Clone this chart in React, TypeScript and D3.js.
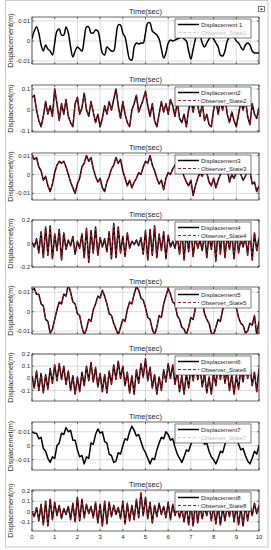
import React from 'react';
import * as d3 from 'd3';

// sampled every 0.1 s, 0..10 s
const time = d3.range(101).map((i) => i / 10);

const disp1 = [0.001,0.005,0.007,0.004,-0.002,-0.005,-0.002,-0.004,-0.005,-0.007,-0.001,0.005,0.006,0.003,0.003,0.007,0.004,-0.003,-0.008,-0.005,-0.003,-0.004,-0.005,0.001,0.007,0.007,0.004,0.004,0.0055,0.005,0,-0.006,-0.007,-0.003,-0.004,-0.005,-0.005,0.002,0.008,0.008,0.004,0.002,-0.004,-0.009,-0.0095,-0.003,-0.001,-0.0015,-0.001,-0.001,0.004,0.009,0.009,0.005,0.004,0.003,0.001,-0.004,-0.0085,-0.006,-0.001,0.0005,0,0.0005,0.001,0.0015,0.002,0.001,0,-0.005,-0.009,-0.004,0.001,0.004,0.003,-0.001,-0.003,-0.001,0.001,0.002,0.001,-0.001,-0.003,-0.007,-0.0075,-0.005,0,0.002,0.003,0.002,0,-0.001,-0.003,-0.0045,-0.002,-0.001,-0.002,-0.005,-0.006,-0.006,-0.006];
const disp2 = [0.06,0.07,0,-0.05,-0.08,-0.03,0.04,-0.02,0.02,-0.03,0.1,0.03,-0.05,0.03,-0.02,0.05,-0.03,-0.06,-0.08,0.03,0.06,-0.02,0.01,0.08,0,-0.03,0.04,-0.01,-0.06,-0.02,-0.08,-0.04,0.02,-0.02,0.04,0,0.05,0.1,0.02,-0.04,0.04,-0.02,-0.06,-0.08,0,0.03,0.07,-0.01,0.02,0.05,0.09,0.02,-0.03,0.03,-0.05,-0.08,-0.02,0.04,-0.01,0.03,-0.02,0.05,0.02,-0.03,0.04,-0.04,-0.06,-0.02,-0.08,0,0.05,-0.01,0.06,0.02,-0.03,0.03,-0.05,-0.02,-0.07,-0.08,0,0.05,-0.02,0.04,0,0.06,-0.02,-0.06,-0.01,-0.05,-0.08,-0.02,0.04,0,0.05,-0.03,-0.07,0.03,-0.02,-0.04,0.01];
const disp3 = [0.01,0.008,0.009,0.004,0.002,-0.003,-0.001,-0.006,-0.009,-0.005,0.001,0.005,0.007,0.006,0.007,0.004,0,-0.004,-0.007,-0.01,-0.005,-0.002,0.004,0.006,0.01,0.007,0.009,0.003,-0.001,-0.004,-0.002,-0.007,-0.009,-0.004,-0.001,0.003,0.005,0.009,0.006,0.008,0.002,-0.002,-0.006,-0.003,-0.007,-0.004,-0.002,0.001,0,0.004,0.007,0.006,0.01,0.005,0.002,-0.002,-0.005,-0.003,-0.008,-0.002,0.001,0,0.003,0.005,0.004,0.006,0.002,-0.001,-0.004,-0.006,-0.003,-0.011,-0.006,-0.002,0.001,-0.001,0.003,0.001,-0.004,-0.006,-0.002,-0.007,-0.003,0,0.002,0.001,0.003,-0.004,0,-0.002,0.001,0.002,0,-0.003,-0.001,0.003,0.002,-0.005,-0.004,-0.009,-0.006];
const disp4 = [0.01,-0.03,0.04,-0.08,0.1,-0.12,0.14,-0.1,0.15,-0.13,0.08,-0.06,0.12,-0.14,0.09,-0.05,0.03,-0.02,0.06,-0.09,0.02,-0.04,0.08,-0.12,0.13,-0.16,0.11,-0.08,0.14,-0.1,0.05,-0.03,0.04,-0.07,0.1,-0.13,0.17,-0.12,0.14,-0.08,0.06,-0.11,0.09,-0.04,0.02,-0.01,0.03,-0.02,0.05,-0.09,0.11,-0.14,0.12,-0.1,0.15,-0.12,0.08,-0.06,0.1,-0.13,0.07,-0.03,0.02,-0.04,0.06,-0.09,0.12,-0.14,0.1,-0.07,0.13,-0.11,0.06,-0.04,0.03,-0.06,0.09,-0.12,0.08,-0.05,0.11,-0.15,0.13,-0.09,0.14,-0.12,0.07,-0.05,0.09,-0.13,0.11,-0.08,0.04,-0.03,0.06,-0.1,0.12,-0.14,0.09,-0.06,0.05];
const disp5 = [0.011,0.012,0.009,0.009,0.004,0.003,-0.004,-0.005,-0.011,-0.009,-0.004,0.001,0.005,0.004,0.009,0.008,0.014,0.01,0.005,0.004,-0.001,-0.002,-0.008,-0.012,-0.009,-0.004,-0.005,0.001,0.004,0.008,0.007,0.011,0.008,0.004,-0.001,-0.002,-0.006,-0.009,-0.012,-0.008,-0.004,-0.005,0.001,0.005,0.004,0.009,0.013,0.011,0.007,0.006,0.002,-0.003,-0.004,-0.009,-0.012,-0.008,-0.002,-0.003,0.004,0.008,0.012,0.009,0.005,0.004,-0.002,-0.004,-0.008,-0.009,-0.012,-0.008,-0.003,-0.004,0.002,0.003,0.006,0.005,-0.001,-0.004,-0.006,-0.011,-0.012,-0.008,-0.004,-0.005,0.001,0.006,0.005,0.01,0.007,0.003,0.002,-0.003,-0.006,-0.007,-0.011,-0.01,-0.006,-0.007,-0.002,-0.012,-0.005];
const disp6 = [0.02,-0.08,0.06,-0.1,0.04,-0.12,0.03,-0.09,0.08,-0.04,0.11,-0.02,0.12,-0.01,0.1,-0.05,0.06,-0.1,0.02,-0.13,0.01,-0.11,0.05,-0.06,0.1,-0.02,0.13,-0.03,0.09,-0.07,0.04,-0.11,0.03,-0.12,0.06,-0.05,0.11,-0.01,0.14,0,0.1,-0.06,0.05,-0.12,0.02,-0.13,0.07,-0.04,0.12,0.01,0.16,-0.02,0.09,-0.08,0.03,-0.13,0.01,-0.1,0.07,-0.03,0.12,0,0.11,-0.05,0.06,-0.11,0.02,-0.13,0.04,-0.08,0.09,-0.02,0.13,-0.01,0.1,-0.07,0.04,-0.12,0.01,-0.13,0.05,-0.06,0.11,-0.01,0.12,-0.04,0.07,-0.1,0.03,-0.13,0.02,-0.09,0.08,-0.03,0.13,0,0.1,-0.06,0.05,-0.11,0.08];
const disp7 = [0.01,0.009,0.009,0.005,0.006,-0.002,-0.004,-0.009,-0.012,-0.008,-0.009,0,0.002,0.009,0.008,0.013,0.01,0.011,0.004,0.004,-0.003,-0.008,-0.007,-0.013,-0.008,-0.009,0.002,0.001,0.008,0.012,0.009,0.01,0.003,0.002,-0.006,-0.007,-0.012,-0.011,-0.005,-0.006,0,0.005,0.004,0.01,0.014,0.011,0.007,0.008,0.003,-0.002,-0.005,-0.009,-0.013,-0.009,-0.010,-0.003,0.002,0.006,0.005,0.01,0.008,0.004,0.005,-0.001,-0.006,-0.009,-0.012,-0.008,-0.003,-0.004,0.001,0.004,0.007,0.006,0.009,0.005,0.001,0.002,-0.004,-0.008,-0.01,-0.013,-0.009,-0.004,-0.005,0.001,0.005,0.004,0.008,0.009,0.006,0.001,-0.003,-0.002,-0.007,-0.011,-0.013,-0.009,-0.004,-0.006,0];
const disp8 = [0,-0.05,0.04,-0.09,0.07,-0.13,0.1,-0.14,0.12,-0.08,0.09,-0.04,0.06,-0.07,0.03,-0.03,0.05,-0.08,0.08,-0.1,0.14,-0.09,0.12,-0.06,0.07,-0.02,0.05,-0.06,0.09,-0.11,0.07,-0.14,0.1,-0.12,0.09,-0.05,0.06,-0.03,0.04,-0.07,0.1,-0.12,0.08,-0.09,0.06,-0.08,0.12,-0.06,0.18,-0.04,0.14,-0.07,0.09,-0.11,0.06,-0.05,0.08,-0.03,0.05,-0.06,0.09,-0.08,0.07,-0.04,0.04,-0.06,0.03,-0.1,0.06,-0.13,0.08,-0.14,0.09,-0.11,0.06,-0.07,0.05,-0.04,0.07,-0.09,0.05,-0.12,0.06,-0.13,0.04,-0.09,0.05,-0.05,0.08,-0.1,0.06,-0.13,0.04,-0.14,0.06,-0.09,0.07,-0.04,0.08,-0.02,0.06];

// the observer estimates sit on top of the measured displacement
const observer = [disp1, disp2, disp3, disp4, disp5, disp6, disp7, disp8];
const displacement = [disp1, disp2, disp3, disp4, disp5, disp6, disp7, disp8];

const dispNames = ['Displacement 1', 'Displacement2', 'Displacement3', 'Displacement4', 'Displacement5', 'Displacement6', 'Displacement7', 'Displacement8'];
const obsNames = ['Observer_State1', 'Observer_State2', 'Observer_State3', 'Observer_State4', 'Observer_State5', 'Observer_State6', 'Observer_State7', 'Observer_State8'];
const yLabels = ['Displacement(m)', 'Displacenet(m)', 'Displacemet(m)', 'Displacemet(m)', 'Displacemet(m)', 'Displacemet(m)', 'Displacemet(m)', 'Displacement(m)'];
const yTicks = [
    [-0.01, 0, 0.01],
    [-0.1, 0, 0.1],
    [-0.01, 0, 0.01],
    [-0.2, 0, 0.2],
    [-0.01, 0, 0.01],
    [-0.1, 0, 0.1, 0.2],
    [-0.01, 0, 0.01],
    [-0.1, 0, 0.1, 0.2],
];
const yDomains = [
    [-0.0115, 0.012],
    [-0.105, 0.119],
    [-0.0135, 0.0114],
    [-0.2, 0.2],
    [-0.0115, 0.0127],
    [-0.187, 0.2],
    [-0.0174, 0.017],
    [-0.19, 0.21],
];
const observerHidden = [true, false, false, false, false, false, true, false];
const xTicks = [0, 1, 2, 3, 4, 5, 6, 7, 8, 9, 10];

const font = "'Liberation Sans', Arial, sans-serif";
const tops = [17, 85, 153, 220, 287, 354, 422, 490];
const heights = [47, 47, 47, 47, 47, 47, 48, 41];
const left = 32;
const right = 259;

export default function App() {
    const x = d3.scaleLinear().domain([0, 10]).range([left, right]);

    return (
        <svg width={271} height={550} style={{ position: 'absolute', left: 0, top: 0, background: '#fff' }} fontFamily={font}>
            <rect x={5.5} y={0.5} width={262.5} height={546.5} fill="none" stroke="#c8c8c8" />
            <rect x={258.5} y={6.5} width={6} height={5} fill="#fff" stroke="#555" strokeWidth={0.8} />
            <rect x={260.5} y={8.5} width={2} height={1.5} fill="#333" />
            {displacement.map((vals, i) => {
                const top = tops[i];
                const bottom = top + heights[i];
                const y = d3.scaleLinear().domain(yDomains[i]).range([bottom, top]);
                const line = d3
                    .line<number>()
                    .x((_, j) => x(time[j]))
                    .y((d) => y(d))
                    .curve(i === 0 ? d3.curveCatmullRom : d3.curveLinear);
                const lx = right - 84;
                const ly = top + 2;
                const hidden = observerHidden[i];
                return (
                    <g key={i}>
                        <defs>
                            <clipPath id={`clip${i}`}>
                                <rect x={left} y={top} width={right - left} height={bottom - top} />
                            </clipPath>
                        </defs>
                        <rect x={left} y={top} width={right - left} height={bottom - top} fill="#fff" />
                        {xTicks.map((t) => (
                            <line key={t} x1={x(t)} x2={x(t)} y1={top} y2={bottom} stroke="#d0d0d0" strokeWidth={0.8} />
                        ))}
                        {yTicks[i].map((t) => (
                            <line key={t} x1={left} x2={right} y1={y(t)} y2={y(t)} stroke="#d0d0d0" strokeWidth={0.8} />
                        ))}
                        <g clipPath={`url(#clip${i})`}>
                            <path d={line(vals) || ''} fill="none" stroke="#000" strokeWidth={1.5} strokeLinejoin="round" />
                            {!hidden && (
                                <path d={line(observer[i]) || ''} fill="none" stroke="#d4142a" strokeWidth={0.9} strokeDasharray="3,2" />
                            )}
                        </g>
                        <rect x={left} y={top} width={right - left} height={bottom - top} fill="none" stroke="#262626" strokeWidth={0.7} />
                        {yTicks[i].map((t) => (
                            <g key={t}>
                                <line x1={left} x2={left + 2} y1={y(t)} y2={y(t)} stroke="#262626" strokeWidth={0.6} />
                                <line x1={right} x2={right - 2} y1={y(t)} y2={y(t)} stroke="#262626" strokeWidth={0.6} />
                                <text x={left - 2} y={y(t)} dy="0.35em" textAnchor="end" fontSize={6} fill="#262626">
                                    {String(t)}
                                </text>
                            </g>
                        ))}
                        {xTicks.map((t) => (
                            <g key={t}>
                                <line x1={x(t)} x2={x(t)} y1={bottom} y2={bottom - 2} stroke="#262626" strokeWidth={0.6} />
                                <line x1={x(t)} x2={x(t)} y1={top} y2={top + 2} stroke="#262626" strokeWidth={0.6} />
                            </g>
                        ))}
                        <text x={(left + right) / 2} y={top - 3} textAnchor="middle" fontSize={7.5} fill="#262626">
                            Time(sec)
                        </text>
                        <text
                            transform={`translate(13,${(top + bottom) / 2}) rotate(-90)`}
                            textAnchor="middle"
                            fontSize={7.2}
                            fill="#262626"
                        >
                            {yLabels[i]}
                        </text>
                        <rect x={lx} y={ly} width={76} height={19} fill="#fff" stroke="#262626" strokeWidth={0.6} />
                        <line x1={lx + 3} x2={lx + 24} y1={ly + 5.5} y2={ly + 5.5} stroke="#000" strokeWidth={1.5} />
                        <text x={lx + 26} y={ly + 5.5} dy="0.35em" fontSize={6} fill="#262626">
                            {dispNames[i]}
                        </text>
                        <line
                            x1={lx + 3}
                            x2={lx + 24}
                            y1={ly + 13.5}
                            y2={ly + 13.5}
                            stroke={hidden ? '#cfcfcf' : '#8a2a1c'}
                            strokeWidth={1}
                            strokeDasharray="3,2"
                        />
                        <text x={lx + 26} y={ly + 13.5} dy="0.35em" fontSize={6} fill={hidden ? '#c0c0c0' : '#262626'}>
                            {obsNames[i]}
                        </text>
                        {i === displacement.length - 1 &&
                            xTicks.map((t) => (
                                <text key={t} x={x(t)} y={bottom + 8} textAnchor="middle" fontSize={6} fill="#262626">
                                    {t}
                                </text>
                            ))}
                    </g>
                );
            })}
        </svg>
    );
}
